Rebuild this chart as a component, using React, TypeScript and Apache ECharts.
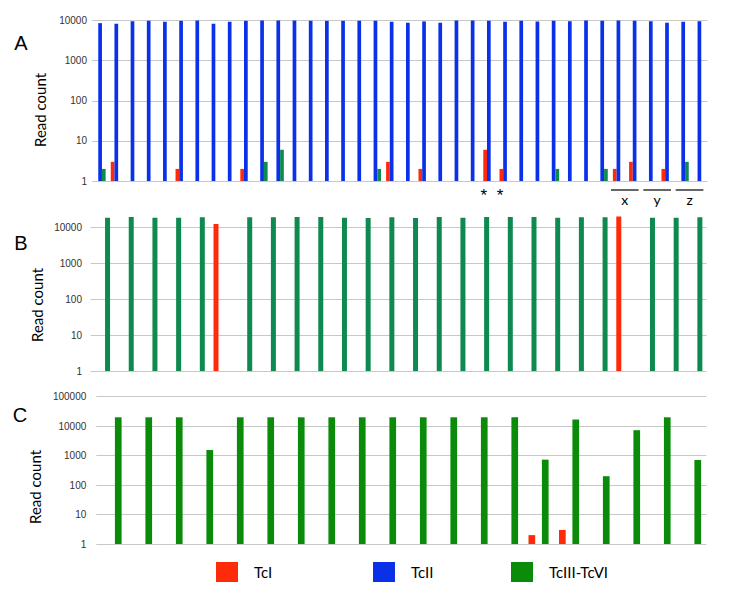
import React, { useEffect, useRef } from "react";
import * as echarts from "echarts";

// ---------- Data ----------
const catsA: string[] = Array.from({ length: 38 }, (_, i) => `A${i + 1}`);
const tcIIA: number[] = [
  8600, 8300, 9600, 9900, 9300, 9800, 10000, 8300, 9300, 9800,
  10000, 10000, 10000, 9800, 9800, 9800, 9900, 9800, 9300, 8800,
  9500, 8800, 10000, 10000, 9800, 9300, 9800, 9500, 9800, 9600,
  10000, 9800, 10000, 9800, 9600, 8800, 9300, 9600,
];
const tcIA: (number | null)[] = [
  null, 3, null, null, null, 2, null, null, null, 2,
  null, null, null, null, null, null, null, null, 3, null,
  2, null, null, null, 6, 2, null, null, null, null,
  null, null, 2, 3, null, 2, null, null,
];
const tcIIIA: (number | null)[] = [
  2, null, null, null, null, null, null, null, null, null,
  3, 6, null, null, null, null, null, 2, null, null,
  null, null, null, null, null, null, null, null, 2, null,
  null, 2, null, null, null, null, 3, null,
];

const catsB: string[] = Array.from({ length: 26 }, (_, i) => `B${i + 1}`);
const tcIB: (number | null)[] = [
  null, null, null, null, null, 12400, null, null, null, null,
  null, null, null, null, null, null, null, null, null, null,
  null, null, 20000, null, null, null,
];
const tcIIIB: (number | null)[] = [
  18600, 19400, 18600, 18600, 19000, null, 19000, 19000, 19400, 19400,
  18600, 18200, 19000, 18200, 19400, 18600, 19400, 19400, 19400, 18600,
  19000, 19000, null, 18600, 18600, 19000,
];

const catsC: string[] = Array.from({ length: 20 }, (_, i) => `C${i + 1}`);
const tcIC: (number | null)[] = [
  null, null, null, null, null, null, null, null, null, null,
  null, null, null, null, 2, 3, null, null, null, null,
];
const tcIIIC: (number | null)[] = [
  20000, 20000, 20000, 1550, 20000, 20000, 20000, 20000, 20000, 20000,
  20000, 20000, 20000, 20000, 730, 16800, 200, 7300, 20000, 710,
];

const panelLetters = ["A", "B", "C"];
const yTitle = "Read count";
const groupMarks = [
  { label: "x", from: "A33", to: "A34" },
  { label: "y", from: "A35", to: "A36" },
  { label: "z", from: "A37", to: "A38" },
];
const starredCats = ["A25", "A26"];

// ---------- Styles ----------
const RED = "#ff2a0a";
const BLUE = "#0a30e8";
const TEAL = "#0e8a50";
const GREEN = "#0a8c0a";
const GRID_COLOR = "#c8c8c8";
const LABEL_FONT = "Liberation Sans";
const TEXT_FONT = "Lato";

function yAxisCfg(gridIndex: number, max: number, margin: number, hideMax: boolean) {
  return {
    type: "log",
    gridIndex,
    min: 1,
    max,
    logBase: 10,
    axisLine: { show: false },
    axisTick: { show: false },
    axisLabel: {
      fontSize: 10,
      color: "#333",
      fontFamily: LABEL_FONT,
      margin,
      showMaxLabel: !hideMax,
      formatter: (v: number) => String(Math.round(v)),
    },
    splitLine: {
      show: true,
      showMaxLine: !hideMax,
      lineStyle: { color: GRID_COLOR, width: 1 },
    },
  };
}

function xAxisCfg(gridIndex: number, data: string[]) {
  return {
    type: "category",
    gridIndex,
    data,
    axisLine: { show: false },
    axisTick: { show: false },
    axisLabel: { show: false },
    splitLine: { show: false },
  };
}

export default function App() {
  const ref = useRef<HTMLDivElement>(null);

  useEffect(() => {
    document.body.style.margin = "0";
    if (!ref.current) return;
    const chart = echarts.init(ref.current, null, { renderer: "svg" });

    const legendBase = {
      orient: "horizontal",
      top: 562,
      padding: 0,
      itemWidth: 22,
      itemHeight: 20,
      selectedMode: false,
      icon: "rect",
      textStyle: {
        fontSize: 15,
        color: "#000",
        fontFamily: TEXT_FONT,
        padding: [0, 0, 0, 11],
      },
    };

    const option: any = {
      animation: false,
      backgroundColor: "#fff",
      grid: [
        { left: 92, right: 42.5, top: 20.5, height: 160.5 },
        { left: 90.7, right: 43.3, top: 216.5, height: 154.5 },
        { left: 96.3, right: 43.7, top: 396.7, height: 147.3 },
      ],
      xAxis: [xAxisCfg(0, catsA), xAxisCfg(1, catsB), xAxisCfg(2, catsC)],
      yAxis: [
        yAxisCfg(0, 10000, 5, false),
        yAxisCfg(1, 20000, 8.7, true),
        yAxisCfg(2, 100000, 10, false),
      ],
      legend: [
        { ...legendBase, left: 216, data: [{ name: "TcI", itemStyle: { color: RED } }] },
        { ...legendBase, left: 373, data: [{ name: "TcII", itemStyle: { color: BLUE } }] },
        {
          ...legendBase,
          left: 511,
          data: [{ name: "TcIII-TcVI", itemStyle: { color: GREEN } }],
        },
      ],
      series: [
        {
          name: "TcI", type: "bar", xAxisIndex: 0, yAxisIndex: 0, data: tcIA,
          barWidth: 3.7, barGap: "0%", itemStyle: { color: RED },
        },
        {
          name: "TcII", type: "bar", xAxisIndex: 0, yAxisIndex: 0, data: tcIIA,
          barWidth: 3.7, barGap: "0%", itemStyle: { color: BLUE },
        },
        {
          name: "TcIII-TcVI", type: "bar", xAxisIndex: 0, yAxisIndex: 0, data: tcIIIA,
          barWidth: 3.7, barGap: "0%", itemStyle: { color: TEAL },
        },
        {
          name: "TcI", type: "bar", xAxisIndex: 1, yAxisIndex: 1, data: tcIB,
          barWidth: 5, barGap: "100%", itemStyle: { color: RED },
        },
        {
          name: "TcIII-TcVI", type: "bar", xAxisIndex: 1, yAxisIndex: 1, data: tcIIIB,
          barWidth: 5, barGap: "100%", itemStyle: { color: TEAL },
        },
        {
          name: "TcI", type: "bar", xAxisIndex: 2, yAxisIndex: 2, data: tcIC,
          barWidth: 6.7, barGap: "100%", itemStyle: { color: RED },
        },
        {
          name: "TcIII-TcVI", type: "bar", xAxisIndex: 2, yAxisIndex: 2, data: tcIIIC,
          barWidth: 6.7, barGap: "100%", itemStyle: { color: GREEN },
        },
      ],
    };
    chart.setOption(option);

    // annotations placed via the chart's own axes
    const xA = (name: string) => chart.convertToPixel({ xAxisIndex: 0 }, name) as number;
    const baseA = chart.convertToPixel({ yAxisIndex: 0 }, 1) as number;
    const graphics: any[] = [];
    const titlePos = [
      { letter: { x: 21, y: 43 }, title: { x: 40, y: 110 } },
      { letter: { x: 21, y: 243 }, title: { x: 36.5, y: 305 } },
      { letter: { x: 20, y: 415 }, title: { x: 35, y: 487 } },
    ];
    titlePos.forEach((p, i) => {
      graphics.push({
        type: "text",
        x: p.letter.x,
        y: p.letter.y,
        style: {
          text: panelLetters[i],
          fontSize: 20,
          fontFamily: "Liberation Sans",
          fill: "#000",
          align: "center",
          verticalAlign: "middle",
        },
      });
      graphics.push({
        type: "text",
        x: p.title.x,
        y: p.title.y,
        rotation: Math.PI / 2,
        style: {
          text: yTitle,
          fontSize: 15,
          fontFamily: TEXT_FONT,
          fill: "#000",
          align: "center",
          verticalAlign: "middle",
        },
      });
    });
    starredCats.forEach((c) => {
      graphics.push({
        type: "text",
        x: xA(c) - 5,
        y: baseA + 14,
        style: {
          text: "*",
          fontSize: 17,
          fontFamily: "Liberation Sans",
          fill: "#000",
          align: "center",
          verticalAlign: "middle",
        },
      });
    });
    groupMarks.forEach((g) => {
      const x1 = xA(g.from) - 7.5;
      const x2 = xA(g.to) + 4;
      graphics.push({
        type: "line",
        shape: { x1, y1: baseA + 9, x2, y2: baseA + 9 },
        style: { stroke: "#000", lineWidth: 1.2 },
      });
      graphics.push({
        type: "text",
        x: (x1 + x2) / 2,
        y: baseA + 18,
        style: {
          text: g.label,
          fontSize: 14,
          fontFamily: TEXT_FONT,
          fill: "#000",
          align: "center",
          verticalAlign: "middle",
        },
      });
    });
    chart.setOption({ graphic: graphics });

    return () => chart.dispose();
  }, []);

  return <div ref={ref} style={{ width: 750, height: 600 }} />;
}
